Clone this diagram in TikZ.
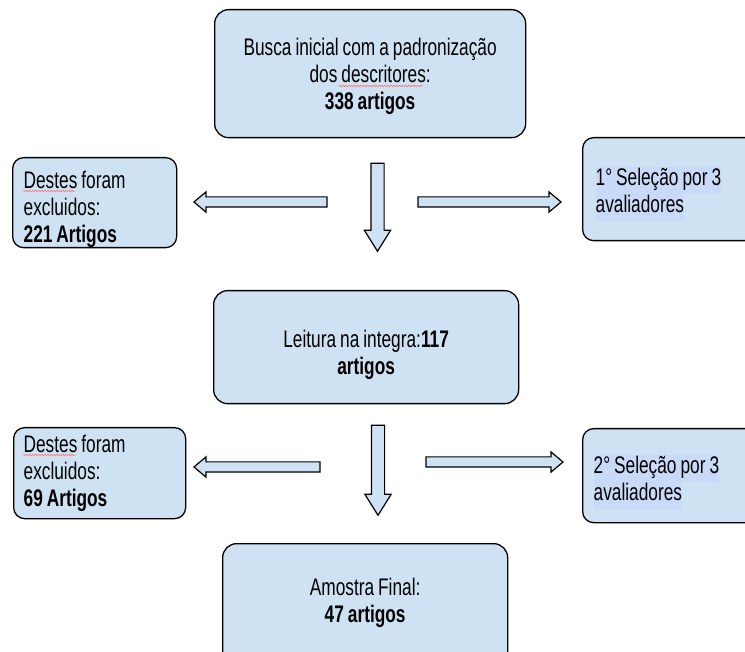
\documentclass[tikz,border=0pt]{standalone}
\usepackage{fontspec}
\setmainfont{Liberation Sans}[FakeStretch=0.72]
\usetikzlibrary{shapes.arrows, calc, decorations.pathmorphing}
\definecolor{boxblue}{HTML}{CFE2F3}
\definecolor{hlblue}{HTML}{C9DAF8}
\setlength{\fboxsep}{0pt}
\newcommand{\hltext}[1]{\colorbox{hlblue}{\strut #1}}

\begin{document}
\begin{tikzpicture}[
    x=1pt, y=-1pt,
    box/.style={rectangle, draw, fill=boxblue, rounded corners=14pt, line width=1.3pt, inner xsep=4pt, inner ysep=0pt, align=flush center, font=\fontsize{24}{27}\selectfont, execute at begin node={\setlength{\spaceskip}{4pt}}, anchor=north west},
    sidebox/.style={box, rounded corners=11pt, align=flush left},
    harrow/.style={single arrow, draw, fill=boxblue, line width=1.2pt, inner sep=4.5pt, single arrow head extend=5pt, single arrow tip angle=80},
    varrow/.style={harrow, inner sep=6pt, single arrow head extend=6.5pt, single arrow tip angle=64, shape border rotate=270},
    spell/.style={red!55, line width=0.6pt, decorate, decoration={snake, segment length=3pt, amplitude=0.8pt}}
]
\useasboundingbox (0,0) rectangle (745,652);
\clip (0,0) rectangle (745,652);

% Boxes
\node[box, text width=303pt, text height=46pt, text depth=82pt] (busca) at (214,9) {Busca inicial com a padronização\\dos descritores:\\\textbf{338 artigos}};
\node[sidebox, inner xsep=11pt, text width=142pt, text height=31pt, text depth=59pt] (exc1) at (12,157) {Destes foram\\excluidos:\\\textbf{221 Artigos}};
\node[sidebox, inner xsep=13pt, text width=159pt, text height=48pt, text depth=55pt] (sel1) at (582,137) {\hltext{1° Seleção por 3}\\\hltext{avaliadores}};
\node[box, text width=297pt, text height=57pt, text depth=56pt] (leitura) at (213,290) {Leitura na integra:\textbf{117}\\\textbf{artigos}};
\node[sidebox, inner xsep=10pt, text width=152pt, text height=25pt, text depth=66pt] (exc2) at (13,427) {Destes foram\\excluidos:\\\textbf{69 Artigos}};
\node[sidebox, inner xsep=11pt, text width=161pt, text height=45pt, text depth=49pt] (sel2) at (582,428) {\hltext{2° Seleção por 3}\\\hltext{avaliadores}};
\node[box, text width=277pt, text height=52pt, text depth=80pt] (amostra) at (222,543) {Amostra Final:\\\textbf{47 artigos}};

% Spell-check marks
\draw[spell] ($(busca.north west)+(125,77)$) -- ++(84,0);
\draw[spell] ($(exc1.north west)+(11,34)$) -- ++(52,0);
\draw[spell] ($(exc2.north west)+(10,28)$) -- ++(52,0);

% Block arrows
\node[harrow, minimum height=133pt, shape border rotate=180] (left1) at (263.5,202) {};
\node[varrow, minimum height=88pt] (down1) at (377.5,202) {};
\node[harrow, minimum height=143pt] (right1) at (486.5,202) {};
\node[harrow, minimum height=126pt, shape border rotate=180] (left2) at (260,467) {};
\node[varrow, minimum height=90pt] (down2) at (378,465) {};
\node[harrow, minimum height=137pt] (right2) at (491.5,462) {};
\end{tikzpicture}
\end{document}
